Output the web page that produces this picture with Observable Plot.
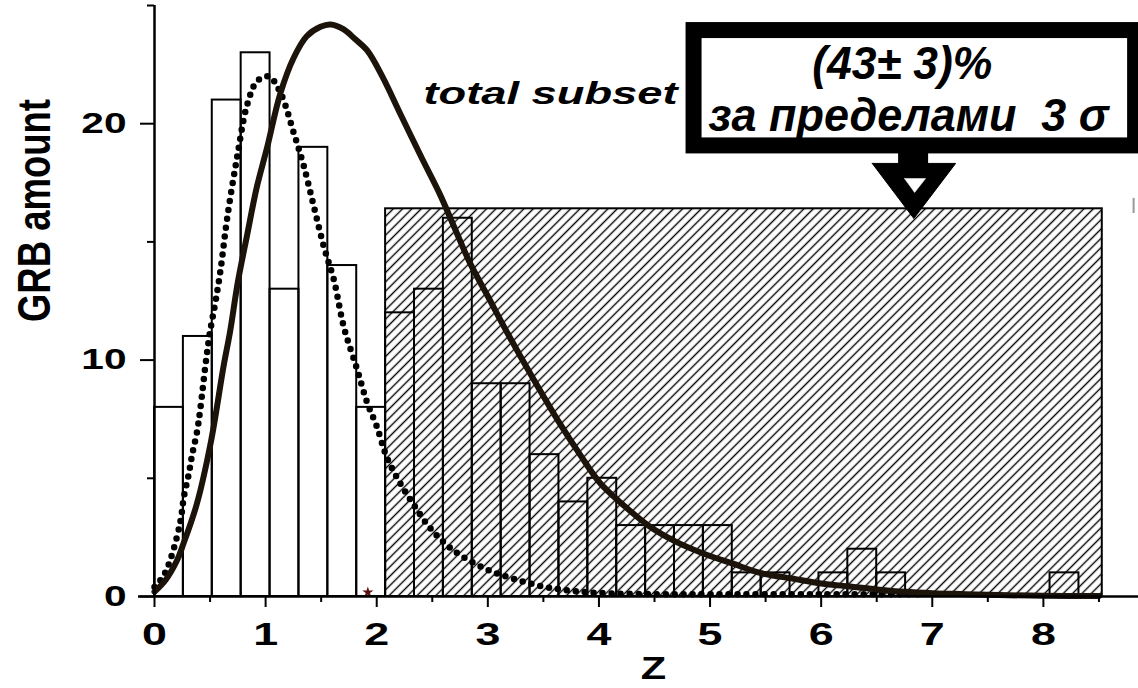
<!DOCTYPE html>
<html><head><meta charset="utf-8">
<script src="https://cdn.jsdelivr.net/npm/d3@7"></script>
<script src="https://cdn.jsdelivr.net/npm/@observablehq/plot@0.6"></script>
<style>body{margin:0;background:#fff} svg{display:block}</style>
</head><body><div id="chart"></div>
<script>
// ---- histogram of GRB redshifts (bin width 0.26) ----
const binWidth = 0.26;
const counts = [8,11,21,23,13,19,14,8,12,13,16,9,9,6,4,5,3,3,3,3,1,1,0,1,2,1,0,0,0,0,0,1];

// hatched region "outside 3 sigma"
const hatchZ = [2.08, 8.53];
const hatchLevel = 16.4;

// solid fitted curve (total subset)
const fitZ = [0,0.1,0.2,0.25,0.38,0.51,0.62,0.68,0.75,0.834,0.92,1.014,1.134,1.254,1.37,1.494,1.584,1.7,1.8,1.914,2.05,2.214,2.4,2.57,2.7,2.84,3.0,3.17,3.41,3.65,3.83,4.01,4.2,4.46,4.7,4.95,5.2,5.45,5.75,6.0,6.26,6.5,6.75,7.0,7.3,7.6,8.0,8.5];
const fitV = [0.2,0.7,1.5,2.1,3.9,6.6,9.7,11.2,13.3,15.3,17.3,19.0,21.3,22.8,23.7,24.1,24.2,24.0,23.6,23.1,22.0,20.4,18.6,17.0,15.6,14.1,12.7,11.2,9.2,7.3,6.0,4.8,3.95,2.95,2.3,1.8,1.4,1.0,0.75,0.55,0.42,0.3,0.2,0.14,0.1,0.06,0.03,0.02];

// dotted curve
const dotZ = [0,0.084,0.159,0.234,0.264,0.309,0.339,0.384,0.414,0.459,0.5,0.55,0.594,0.654,0.744,0.834,0.924,1.03,1.134,1.254,1.344,1.434,1.524,1.614,1.704,1.824,1.914,2.0,2.09,2.21,2.33,2.48,2.69,2.98,3.23,3.5,3.74,4.0,4.5,5.0,6.0,6.9];
const dotV = [0.4,0.9,1.8,3.2,4.2,5.2,6.0,7.0,8.0,9.8,11.2,12.5,13.8,16.0,18.6,20.8,21.8,22.0,21.3,19.6,18.2,16.5,14.8,13.4,11.4,9.6,8.2,7.2,5.9,4.8,3.9,2.9,1.95,1.17,0.75,0.42,0.25,0.15,0.1,0.1,0.1,0.1];

// axis ticks
const zTicks = [0,1,2,3,4,5,6,7,8];
const zMinorTicks = [0.5,1.5,2.5,3.5,4.5,5.5,6.5,7.5,8.5];
const yTicks = [0,10,20];
const yMinorTicks = [5,15,25];

// small stray marks in the figure
const strayStarZ = [1.92], strayStarV = [0.18];
const strayBarZ = [8.812], strayBarV = [16.2, 16.84];

// annotation
const boxZ = [4.856, 8.83], boxV = [19.06, 23.94];
const stemZ = [6.697, 6.967], stemV = [18.23, 18.78];
const arrowZ = [6.46, 7.21, 6.834, 6.46], arrowV = [18.32, 18.32, 15.99, 18.32];
const arrowHoleZ = [6.75, 6.94, 6.841, 6.75], arrowHoleV = [17.68, 17.68, 17.09, 17.68];
const annoText = ["(43± 3)%", "за пределами  3 σ"];
const annoZ = [6.73, 6.787], annoV = [23.3, 21.1];
const subsetText = "total subset", subsetZ = 3.564, subsetV = 21.81;

// ---- build tables ----
const bins = counts.map((c, i) => ({x1: i * binWidth, x2: (i + 1) * binWidth, n: c}));
const fit = fitZ.map((z, i) => ({z, v: fitV[i]}));
const dots = dotZ.map((z, i) => ({z, v: dotV[i]}));
const arrow = arrowZ.map((z, i) => ({z, v: arrowV[i]}));
const arrowHole = arrowHoleZ.map((z, i) => ({z, v: arrowHoleV[i]}));
const anno = annoText.map((t, i) => ({t, z: annoZ[i], v: annoV[i]}));

const svg = Plot.plot({
  width: 1138, height: 688,
  marginLeft: 154, marginRight: 0, marginTop: 5, marginBottom: 92,
  x: {domain: [0, 8.856]},
  y: {domain: [0, 25]},
  style: {fontFamily: "'Liberation Sans', Arial, sans-serif", fontWeight: "bold", background: "white", color: "black"},
  marks: [
    Plot.rect([{x1: hatchZ[0], x2: hatchZ[1], y1: 0, y2: hatchLevel}], {x1: "x1", x2: "x2", y1: "y1", y2: "y2", fill: "url(#hatch)", stroke: "black", strokeWidth: 2}),
    Plot.rectY(bins, {x1: "x1", x2: "x2", y: "n", fill: "none", stroke: "black", strokeWidth: 2}),
    Plot.line(dots, {x: "z", y: "v", stroke: "black", strokeWidth: 6.5, strokeDasharray: "0,9", strokeLinecap: "round", curve: "catmull-rom"}),
    Plot.line(fit, {x: "z", y: "v", stroke: "#1c130b", strokeWidth: 6, curve: "catmull-rom"}),
    Plot.dot(strayStarZ.map((z, i) => ({z, v: strayStarV[i]})), {x: "z", y: "v", symbol: "star", r: 3.5, fill: "#5a1010"}),
    Plot.ruleX(strayBarZ, {y1: strayBarV[0], y2: strayBarV[1], stroke: "#999", strokeWidth: 2}),
    Plot.ruleY([0], {x1: -0.144, x2: 8.856, strokeWidth: 2.5}),
    Plot.ruleX([0], {y1: 0, y2: 25, strokeWidth: 2.5}),
    Plot.axisY(yTicks, {anchor: "left", tickSize: 14, tickPadding: 14, fontSize: 29, strokeWidth: 2, label: null}),
    Plot.axisY(yMinorTicks, {anchor: "left", tickSize: 7, fill: "none", strokeWidth: 2, label: null}),
    Plot.axisX(zTicks, {anchor: "bottom", tickSize: 11, tickPadding: 15, fontSize: 32, strokeWidth: 2, label: null}),
    Plot.axisX(zMinorTicks, {anchor: "bottom", tickSize: 6, fill: "none", strokeWidth: 2, label: null}),
    Plot.text(["GRB amount"], {frameAnchor: "left", y: () => 11.61, dx: -119, rotate: -90, fontSize: 46, fontWeight: "bold", fill: "black"}),
    Plot.text(["Z"], {frameAnchor: "bottom", x: () => 4.49, dy: 60, lineAnchor: "top", fontSize: 32, fontWeight: "bold", fill: "black"}),
    Plot.text([subsetText], {x: () => subsetZ, y: () => subsetV, lineAnchor: "top", fontSize: 32, fontWeight: "bold", fontStyle: "italic", fill: "black"}),
    Plot.rect([{x1: boxZ[0], x2: boxZ[1], y1: boxV[0], y2: boxV[1]}], {x1: "x1", x2: "x2", y1: "y1", y2: "y2", fill: "white", stroke: "black", strokeWidth: 16}),
    Plot.rect([{x1: stemZ[0], x2: stemZ[1], y1: stemV[0], y2: stemV[1]}], {x1: "x1", x2: "x2", y1: "y1", y2: "y2", fill: "black"}),
    Plot.line(arrow, {x: "z", y: "v", fill: "black", stroke: "black", strokeWidth: 1}),
    Plot.line(arrowHole, {x: "z", y: "v", fill: "white", stroke: "white", strokeWidth: 0.5}),
    Plot.text(anno, {x: "z", y: "v", text: "t", lineAnchor: "top", fontSize: 47, fontWeight: "bold", fontStyle: "italic", fill: "black"})
  ]
});
document.getElementById("chart").append(svg);

const ns = "http://www.w3.org/2000/svg";
const defs = document.createElementNS(ns, "defs");
defs.innerHTML = '<pattern id="hatch" patternUnits="userSpaceOnUse" width="6.6" height="10" patternTransform="rotate(45)"><rect width="6.6" height="10" fill="white"/><line x1="3.3" y1="-1" x2="3.3" y2="11" stroke="black" stroke-width="1.4"/></pattern>';
svg.insertBefore(defs, svg.firstChild);

// the reference glyphs are horizontally stretched / condensed
const targets = new Map([["GRB amount", {len: 223}], [subsetText, {len: 254}], [annoText[0], {len: 180}], [annoText[1], {len: 400}], ["Z", {scale: 1.3}]]);
svg.querySelectorAll("text").forEach(t => {
  const s = t.textContent;
  if (!s) return;
  const spec = targets.get(s) || (/^\d+$/.test(s) ? {scale: 1.4} : null);
  if (!spec) return;
  const nat = t.getComputedTextLength();
  const target = spec.len ?? nat * spec.scale;
  t.setAttribute("textLength", target);
  t.setAttribute("lengthAdjust", "spacingAndGlyphs");
});
</script></body></html>
